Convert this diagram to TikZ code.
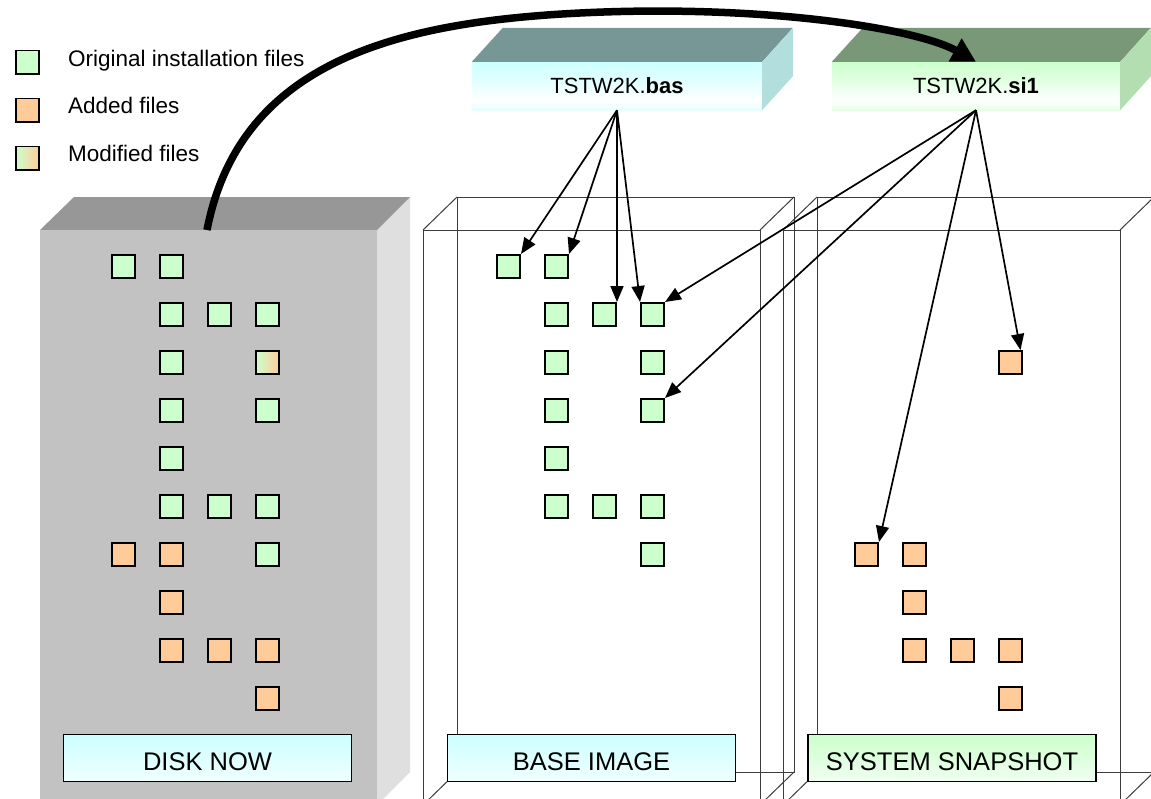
\documentclass[tikz,border=0pt]{standalone}
\usepackage{fontspec}
\setmainfont{Liberation Sans}
\usetikzlibrary{arrows.meta,calc}

\definecolor{fgreen}{HTML}{CCFFCC}
\definecolor{forange}{HTML}{FFCC99}
\definecolor{diskfront}{HTML}{C2C2C2}
\definecolor{disktop}{HTML}{979797}
\definecolor{diskside}{HTML}{DFDFDF}
\definecolor{bastop}{HTML}{779797}
\definecolor{basside}{HTML}{B2DEDE}
\definecolor{sitop}{HTML}{789878}
\definecolor{siside}{HTML}{B2DEB2}
\definecolor{lcyan}{HTML}{CCFFFF}
\definecolor{cyB}{HTML}{E6FFFF}
\definecolor{cyM}{HTML}{E2FFFF}
\definecolor{cyL}{HTML}{F0FFFF}
\definecolor{lgreen}{HTML}{CCFFCC}
\definecolor{grB}{HTML}{E6FFE6}
\definecolor{grM}{HTML}{E2FFE2}
\definecolor{grL}{HTML}{F0FFF0}
\definecolor{wire}{HTML}{3C3C3C}

\pgfdeclareverticalshading{basfront}{100bp}{color(0bp)=(cyB); color(25bp)=(cyB); color(35bp)=(white); color(55bp)=(cyM); color(75bp)=(lcyan); color(100bp)=(lcyan)}
\pgfdeclareverticalshading{sifront}{100bp}{color(0bp)=(grB); color(25bp)=(grB); color(35bp)=(white); color(55bp)=(grM); color(75bp)=(lgreen); color(100bp)=(lgreen)}
\pgfdeclareverticalshading{cyanlab}{100bp}{color(0bp)=(cyL); color(25bp)=(cyL); color(75bp)=(lcyan); color(100bp)=(lcyan)}
\pgfdeclareverticalshading{greenlab}{100bp}{color(0bp)=(grL); color(25bp)=(grL); color(75bp)=(lgreen); color(100bp)=(lgreen)}

\tikzset{
  filebox/.style={draw=black, line width=1.8pt, minimum size=23.2pt, inner sep=0pt},
  origf/.style={filebox, fill=fgreen},
  addf/.style={filebox, fill=forange},
  modf/.style={filebox, left color=fgreen, right color=forange},
  wireline/.style={draw=wire, line width=1pt},
  topfront/.style={shade, inner sep=0pt, minimum height=48pt, font=\fontsize{22}{26}\selectfont},
  tagbox/.style={shade, draw=black, line width=1.6pt, inner sep=0pt, minimum width=288pt, minimum height=47pt, text height=24pt, text depth=0pt, font=\fontsize{25.5}{30}\selectfont},
  legtext/.style={inner sep=0pt, anchor=base west, font=\fontsize{22.5}{26}\selectfont},
  thinarrow/.style={draw=black, line width=1.7pt, -{Triangle[length=16pt,width=13pt]}},
  bigarrow/.style={draw=black, line width=7.5pt, -{Triangle[length=24pt,width=25pt]}}
}

\begin{document}
\begin{tikzpicture}[x=1pt,y=-1pt]
\useasboundingbox (0,0) rectangle (1151,798);
\clip (0,0) rectangle (1151,798);

% disk box
\fill[diskside] (377,230) -- (410,197) -- (410,772) -- (377,805) -- cycle;
\fill[disktop] (40,230) -- (74,197) -- (410,197) -- (377,230) -- cycle;
\fill[diskfront] (40,230) rectangle (377,805);

% wireframe box: base image
\draw[wireline] (423,230) rectangle (760,805);
\draw[wireline] (457,197) rectangle (794,772);
\draw[wireline] (423,230) -- (457,197) (760,230) -- (794,197) (423,805) -- (457,772) (760,805) -- (794,772);
% wireframe box: system snapshot
\draw[wireline] (783,230) rectangle (1120,805);
\draw[wireline] (817,197) rectangle (1154,772);
\draw[wireline] (783,230) -- (817,197) (1120,230) -- (1154,197) (783,805) -- (817,772) (1120,805) -- (1154,772);

% disk files
\foreach \r/\c/\t in {0/0/origf,0/1/origf,1/1/origf,1/2/origf,1/3/origf,2/1/origf,2/3/modf,3/1/origf,3/3/origf,4/1/origf,5/1/origf,5/2/origf,5/3/origf,6/0/addf,6/1/addf,6/3/origf,7/1/addf,8/1/addf,8/2/addf,8/3/addf,9/3/addf}
  \node[\t] (d-\r-\c) at ({123.5+48*\c},{266.5+48*\r}) {};
% base image files
\foreach \r/\c in {0/0,0/1,1/1,1/2,1/3,2/1,2/3,3/1,3/3,4/1,5/1,5/2,5/3,6/3}
  \node[origf] (b-\r-\c) at ({508.5+48*\c},{266.5+48*\r}) {};
% snapshot files
\foreach \r/\c in {2/3,6/0,6/1,7/1,8/1,8/2,8/3,9/3}
  \node[addf] (s-\r-\c) at ({866.5+48*\c},{266.5+48*\r}) {};

% top boxes
\node[topfront, shading=basfront, minimum width=290pt] (bas) at (617,86) {TSTW2K.\textbf{bas}};
\fill[bastop] (bas.north west) -- ++(31,-34) -- ++(290,0) -- (bas.north east) -- cycle;
\fill[basside] (bas.north east) -- ++(31,-34) -- ++(0,48) -- (bas.south east) -- cycle;

\node[topfront, shading=sifront, minimum width=288pt] (si) at (976,86) {TSTW2K.\textbf{si1}};
\fill[sitop] (si.north west) -- ++(31,-34) -- ++(288,0) -- (si.north east) -- cycle;
\fill[siside] (si.north east) -- ++(31,-34) -- ++(0,48) -- (si.south east) -- cycle;

% bottom labels
\node[tagbox, shading=cyanlab] (dn) at (207.5,758) {DISK NOW};
\node[tagbox, shading=cyanlab] (bi) at (591.5,758) {BASE IMAGE};
\node[tagbox, shading=greenlab] (ss) at (952,758) {SYSTEM SNAPSHOT};

% thin arrows
\draw[thinarrow] (bas.south) -- (b-0-0.north east);
\draw[thinarrow] (bas.south) -- (b-0-1.north east);
\draw[thinarrow] (bas.south) -- (b-1-2.north east);
\draw[thinarrow] (bas.south) -- (b-1-3.north west);
\draw[thinarrow] (si.south) -- (b-1-3.north east);
\draw[thinarrow] (si.south) -- (b-3-3.north east);
\draw[thinarrow] (si.south) -- (s-6-0.north east);
\draw[thinarrow] (si.south) -- ($(s-2-3.north)+(10,0)$);

% big arrow
\coordinate (dtop) at (207,230);
\draw[bigarrow] (dtop) .. controls (240,60) and (400,22) .. (580,13) .. controls (760,4) and (916,28) .. (si.north);

% legend
\node[origf] (lg1) at (27.5,62) {};
\node[addf] (lg2) at (27.5,110) {};
\node[modf] (lg3) at (27.5,158) {};
\node[legtext] (lt1) at (68,66.5) {Original installation files};
\node[legtext] (lt2) at (68,113.5) {Added files};
\node[legtext] (lt3) at (68,161) {Modified files};
\end{tikzpicture}
\end{document}
